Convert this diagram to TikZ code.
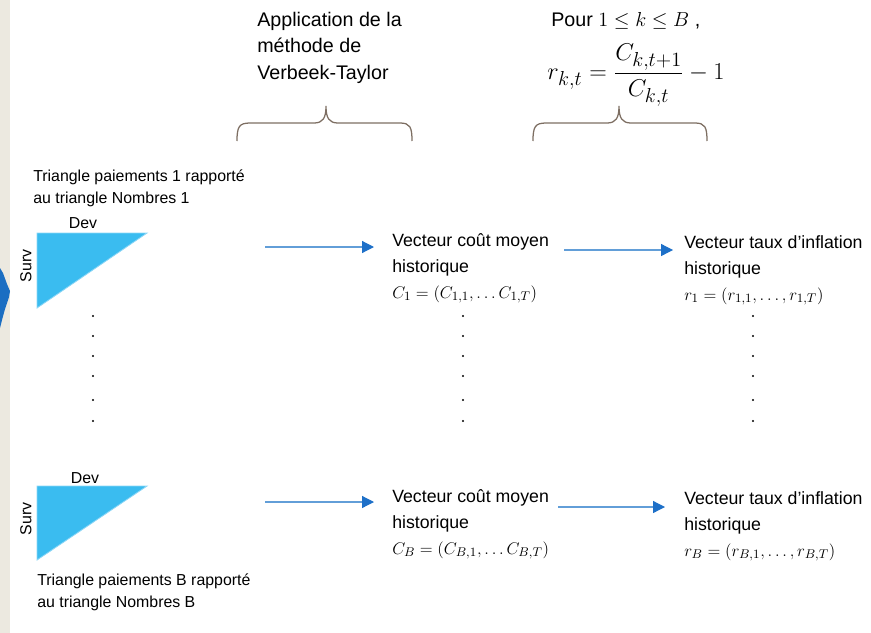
\documentclass[tikz,border=0pt]{standalone}
\usepackage{amsmath}
\usepackage[no-math]{fontspec}
\setmainfont{Liberation Sans}
\usetikzlibrary{arrows.meta}
\definecolor{barbeige}{RGB}{236,233,224}
\definecolor{tricyan}{RGB}{58,188,240}
\definecolor{triedge}{RGB}{140,214,246}
\definecolor{lineblue}{RGB}{98,158,216}
\definecolor{tipblue}{RGB}{30,112,200}
\definecolor{bracebrown}{RGB}{125,110,98}
\definecolor{darkblue}{RGB}{27,110,194}

\begin{document}
\begin{tikzpicture}[x=0.025cm,y=-0.025cm,head/.style={font=\fontsize{14}{18.8}\selectfont,align=left,inner sep=0pt},vect/.style={font=\fontsize{12.6}{18.3}\selectfont,align=left,inner sep=0pt},note/.style={font=\fontsize{11.3}{15.6}\selectfont,align=left,inner sep=0pt},formula/.style={font=\fontsize{19}{22}\selectfont,inner sep=0pt},triangle/.style={fill=tricyan,draw=triedge,line width=0.6pt},arrow/.style={draw=lineblue,line width=0.85pt,-{Triangle[length=8.5pt,width=8.5pt,color=tipblue]}},brace/.style={draw=bracebrown,line width=0.9pt}]
\useasboundingbox (0,0) rectangle (871,633);
\fill[barbeige] (0,0) rectangle (10,633);
\fill[darkblue] (0,268) -- (3,273) -- (7,284) -- (10,291) -- (9,297) -- (5,309) -- (2,320) -- (0,328) -- cycle;
\node[head, anchor=base west] (method) at (257,79) {Application de la\\méthode de\\Verbeek-Taylor};
\node[head, anchor=base west] (pour) at (551,26) {Pour $1 \leq k \leq B$ ,};
\node[formula] (ratio) at (636,75) {$r_{k,t} = \dfrac{C_{k,t+1}}{C_{k,t}} - 1$};
\draw[brace] (237,141) .. controls (237,127) and (239,123) .. (250,123) -- (314,123) .. controls (323,123) and (326,118) .. (326,106) .. controls (326,118) and (329,123) .. (338,123) -- (400,123) .. controls (410,123) and (412,127) .. (412,141);
\draw[brace] (533,141) .. controls (533,127) and (535,123) .. (546,123) -- (607,123) .. controls (616,123) and (619,118) .. (619,106) .. controls (619,118) and (622,123) .. (631,123) -- (695,123) .. controls (705,123) and (707,127) .. (707,141);
\node[note, anchor=base west] (tri1txt) at (33,203) {Triangle paiements 1 rapporté\\au triangle Nombres 1};
\coordinate (tri1) at (37,233);
\fill[triangle] (tri1) -- ++(110,0) -- ++(-110,75) -- cycle;
\node[note] (dev1) at (83,223) {Dev};
\node[note, rotate=90] (surv1) at (26,266) {Surv};
\coordinate (triB) at (37,486);
\fill[triangle] (triB) -- ++(110,0) -- ++(-110,74) -- cycle;
\node[note] (devB) at (85,478) {Dev};
\node[note, rotate=90] (survB) at (26,519) {Surv};
\node[note, anchor=base west] (triBtxt) at (37,607) {Triangle paiements B rapporté\\au triangle Nombres B};
\node[vect, anchor=base west] (cout1) at (392,298) {Vecteur coût moyen\\historique\\$C_1 = (C_{1,1}, \ldots C_{1,T})$};
\node[vect, anchor=base west] (taux1) at (684,300) {Vecteur taux d'inflation\\historique\\$r_1 = (r_{1,1}, \ldots, r_{1,T})$};
\node[vect, anchor=base west] (coutB) at (392,554) {Vecteur coût moyen\\historique\\$C_B = (C_{B,1}, \ldots C_{B,T})$};
\node[vect, anchor=base west] (tauxB) at (684,556) {Vecteur taux d'inflation\\historique\\$r_B = (r_{B,1}, \ldots, r_{B,T})$};
\coordinate (src1) at (265,247);\coordinate (mid1) at (564,250);
\coordinate (srcB) at (265,502);\coordinate (midB) at (558,507);
\draw[arrow, shorten >=12.8pt] (src1) -- (src1 -| cout1.west);\draw[arrow, shorten >=7.8pt] (mid1) -- (mid1 -| taux1.west);
\draw[arrow, shorten >=12.8pt] (srcB) -- (srcB -| coutB.west);\draw[arrow, shorten >=13.5pt] (midB) -- (midB -| tauxB.west);
\foreach \x in {93,463,753} \foreach \y in {316,336,356,376,400,421} \fill (\x,\y) circle (0.8pt);
\end{tikzpicture}
\end{document}
